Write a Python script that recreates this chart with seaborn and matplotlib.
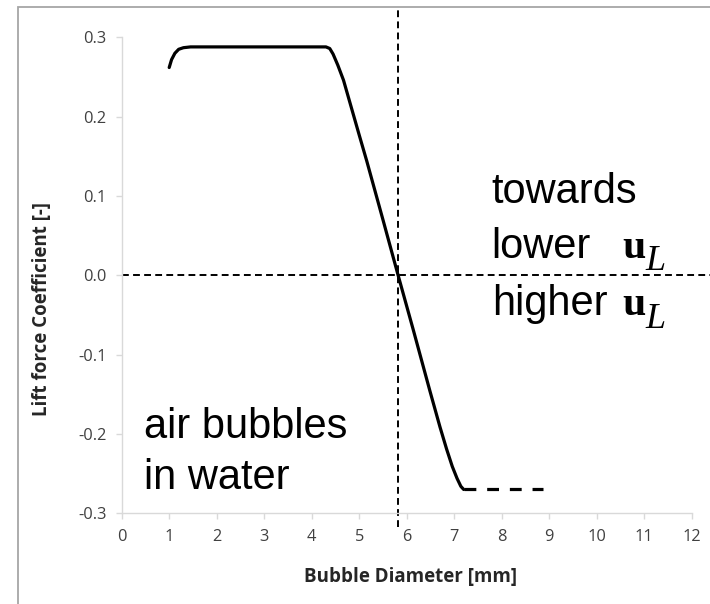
import matplotlib
matplotlib.use("Agg")
import matplotlib.pyplot as plt
import seaborn as sns
import numpy as np
import pandas as pd
from matplotlib.patches import Rectangle

# Lift force coefficient vs. bubble diameter (air bubbles in water)
diameter_mm = [1.00, 1.05, 1.12, 1.20, 1.30, 1.45, 2.00, 3.00, 4.00, 4.30,
               4.38, 4.45, 4.55, 4.67, 5.00, 5.16, 5.51, 5.82, 6.14, 6.49,
               6.70, 6.84, 6.96, 7.06, 7.14, 7.20]
lift_coeff = [0.262, 0.272, 0.280, 0.285, 0.287, 0.288, 0.288, 0.288, 0.288, 0.288,
              0.286, 0.279, 0.265, 0.246, 0.177, 0.144, 0.068, 0.000, -0.069, -0.146,
              -0.191, -0.219, -0.241, -0.256, -0.266, -0.270]

# constant continuation for large bubbles
tail_diameter_mm = [7.20, 8.88]
tail_coeff = [-0.270, -0.270]

# sign change of the lift coefficient
zero_crossing_mm = 5.82

x_ticks = list(range(0, 13))
y_ticks = [-0.3, -0.2, -0.1, 0.0, 0.1, 0.2, 0.3]
y_tick_labels = ["-0.3", "-0.2", "-0.1", "0.0", "0.1", "0.2", "0.3"]

sns.set_theme(style="white")
plt.rcParams["font.family"] = ["Open Sans", "DejaVu Sans"]
plt.rcParams["mathtext.fontset"] = "stix"

fig = plt.figure(figsize=(7.1, 6.04), dpi=100)
ax = fig.add_axes([0.1714, 0.1502, 0.8028, 0.7879])

curve = pd.DataFrame({"d": diameter_mm, "cl": lift_coeff})
sns.lineplot(data=curve, x="d", y="cl", sort=False, estimator=None,
             color="black", linewidth=2.3, ax=ax)
ax.lines[-1].set_solid_joinstyle("round")
tail = pd.DataFrame({"d": tail_diameter_mm, "cl": tail_coeff})
sns.lineplot(data=tail, x="d", y="cl", sort=False, estimator=None,
             color="black", linewidth=2.3, dashes=False, ax=ax)
ax.lines[-1].set_dashes((3.7, 3.4))
ax.lines[-1].set_dash_capstyle("butt")

# reference lines through the zero crossing
ax.axhline(0.0, xmin=0.0, xmax=1.06, color="black", linewidth=1.4,
           dashes=(3.5, 2.2), clip_on=False)
ax.axvline(zero_crossing_mm, ymin=-0.029, ymax=1.062, color="black",
           linewidth=1.4, dashes=(3.5, 2.2), clip_on=False)

ax.set_xlim(0, 12)
ax.set_ylim(-0.3, 0.3)
ax.set_xticks(x_ticks)
ax.set_xticklabels([str(t) for t in x_ticks])
ax.set_yticks(y_ticks)
ax.set_yticklabels(y_tick_labels)

for side in ("top", "right"):
    ax.spines[side].set_visible(False)
for side in ("left", "bottom"):
    ax.spines[side].set_color("#d9d9d9")
    ax.spines[side].set_linewidth(1.0)

ax.tick_params(axis="both", which="major", direction="out", length=4,
               width=1.0, color="#d9d9d9", labelsize=11.8, labelcolor="#404040",
               bottom=True, left=True)
ax.tick_params(axis="y", pad=7)
ax.tick_params(axis="x", pad=7)

label_font = dict(family=["Open Sans", "DejaVu Sans"], weight="bold",
                  size=13.5, color="#262626")
ax.set_xlabel("Bubble Diameter [mm]", **label_font)
ax.set_ylabel("Lift force Coefficient [-]", **label_font)
ax.xaxis.set_label_coords(0.507, -0.112)
ax.yaxis.set_label_coords(-0.122, 0.43)

# annotations
text_font = dict(family=["Liberation Sans", "DejaVu Sans"], size=30,
                 color="black", va="baseline", ha="left")
ax.text(7.79, 0.091, "towards", **text_font)
ax.text(7.79, 0.022, "lower", **text_font)
ax.text(7.79, -0.050, "higher", **text_font)
ax.text(0.47, -0.205, "air bubbles", **text_font)
ax.text(0.47, -0.270, "in water", **text_font)

u_font = dict(family=["Liberation Serif"], weight="bold", size=30,
              color="black", va="baseline", ha="left")
l_font = dict(family=["Liberation Serif"], style="italic", size=26,
              color="black", va="baseline", ha="left")
ax.text(10.53, 0.022, "u", **u_font)
ax.text(11.02, 0.007, "L", **l_font)
ax.text(10.55, -0.050, "u", **u_font)
ax.text(11.03, -0.066, "L", **l_font)

# outer frame (left and top edges)
fig.patches.append(Rectangle((18 / 710, -0.05), 1.2, 1.05 - 7 / 604,
                             transform=fig.transFigure, facecolor="none",
                             edgecolor="#a6a6a6", linewidth=1.3, zorder=0))

fig.savefig("out.png", dpi=100)
